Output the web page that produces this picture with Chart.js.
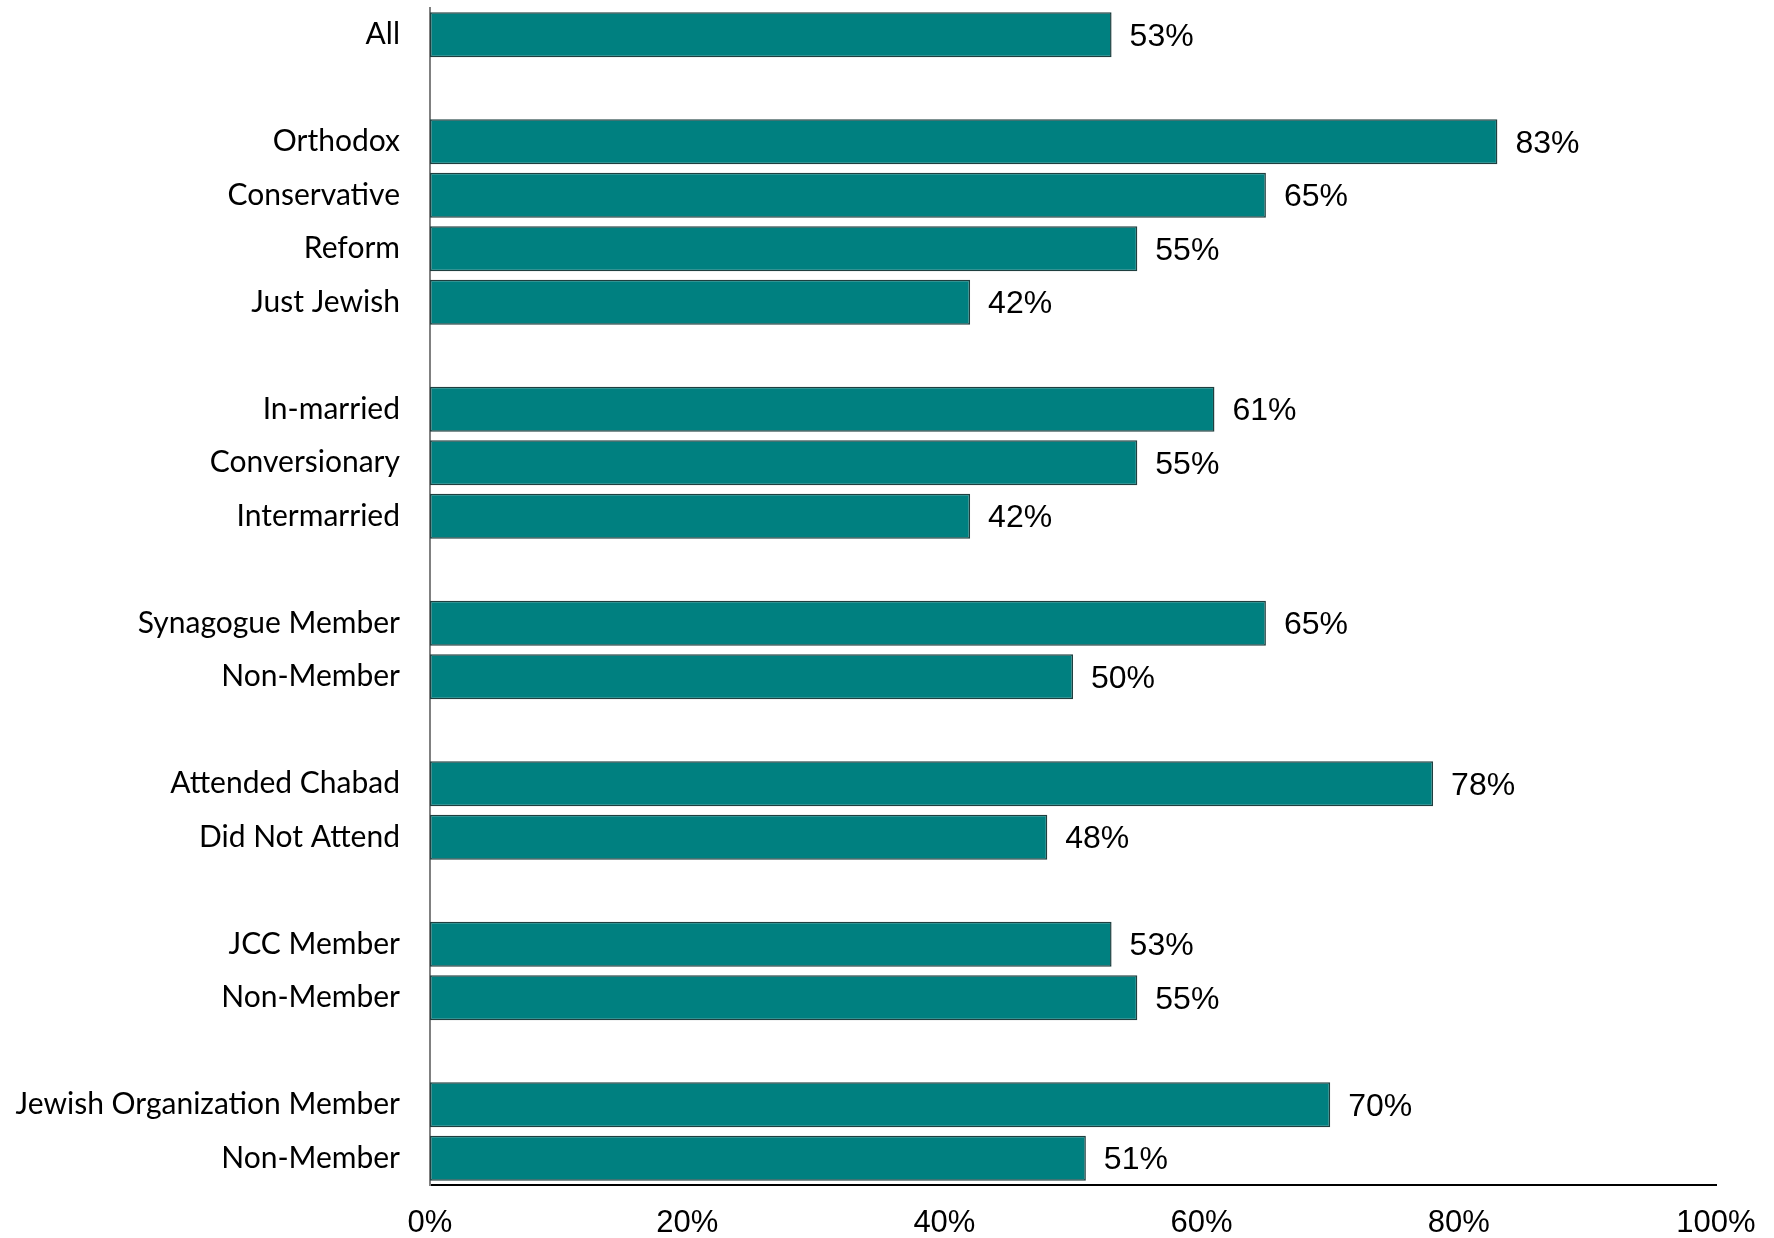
<!DOCTYPE html>
<html>
<head>
<meta charset="utf-8">
<script src="https://cdn.jsdelivr.net/npm/chart.js@4/dist/chart.umd.min.js"></script>
<style>
  html, body { margin: 0; padding: 0; background: #ffffff; }
  #wrap { width: 1774px; height: 1238px; }
</style>
</head>
<body>
<div id="wrap"><canvas id="myChart" width="1774" height="1238"></canvas></div>
<script>
// categorias (linhas vazias separam os grupos)
const categories = [
    'All', '',
    'Orthodox', 'Conservative', 'Reform', 'Just Jewish', '',
    'In-married', 'Conversionary', 'Intermarried', '',
    'Synagogue Member', 'Non-Member', '',
    'Attended Chabad', 'Did Not Attend', '',
    'JCC Member', 'Non-Member', '',
    'Jewish Organization Member', 'Non-Member'
];
const values = [
    53, null,
    83, 65, 55, 42, null,
    61, 55, 42, null,
    65, 50, null,
    78, 48, null,
    53, 55, null,
    70, 51
];
const xTicks = [0, 20, 40, 60, 80, 100];

// rotulos de valor ao lado das barras
const valueLabels = {
    id: 'valueLabels',
    afterDatasetsDraw(chart) {
        const ctx = chart.ctx;
        const meta = chart.getDatasetMeta(0);
        ctx.save();
        ctx.font = '32px "Liberation Sans", Arial, sans-serif';
        ctx.fillStyle = '#000000';
        ctx.textAlign = 'left';
        ctx.textBaseline = 'middle';
        meta.data.forEach((bar, i) => {
            if (values[i] === null) return;
            ctx.fillText(values[i] + '%', bar.x + 18, bar.y + 2);
        });
        ctx.restore();
    }
};

new Chart(document.getElementById('myChart'), {
    type: 'bar',
    data: {
        labels: categories,
        datasets: [{
            data: values,
            backgroundColor: '#008080',
            borderColor: '#1f3f3f',
            borderWidth: 1.5,
            borderSkipped: false,
            categoryPercentage: 1,
            barPercentage: 0.84
        }]
    },
    options: {
        indexAxis: 'y',
        responsive: false,
        animation: false,
        layout: { padding: { top: 8, right: 58, left: 0, bottom: 0 } },
        plugins: {
            legend: { display: false },
            tooltip: { enabled: false }
        },
        scales: {
            x: {
                min: 0,
                max: 100,
                afterBuildTicks: (scale) => { scale.ticks = xTicks.map(v => ({ value: v })); },
                afterFit: (scale) => {
                    scale.height = 53;
                    scale.paddingLeft = 0;
                    scale.paddingRight = 0;
                },
                grid: { display: false, drawTicks: false },
                border: { display: true, color: '#000000', width: 2 },
                ticks: {
                    padding: 20,
                    color: '#000000',
                    font: { family: '"Liberation Sans", Arial, sans-serif', size: 31 },
                    callback: (v) => v + '%'
                }
            },
            y: {
                afterFit: (scale) => {
                    scale.width = 430;
                    scale.paddingTop = 0;
                    scale.paddingBottom = 0;
                },
                grid: { display: false, drawTicks: false },
                border: { display: true, color: '#808080', width: 2 },
                ticks: {
                    padding: 30,
                    autoSkip: false,
                    color: '#000000',
                    font: { family: 'Lato, "Noto Sans", sans-serif', size: 30 }
                }
            }
        }
    },
    plugins: [valueLabels]
});
</script>
</body>
</html>
